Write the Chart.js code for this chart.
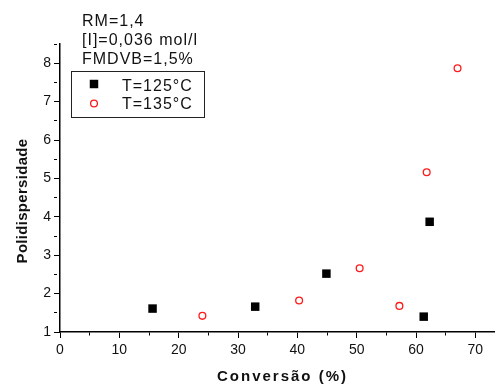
<!DOCTYPE html>
<html>
<head>
<meta charset="utf-8">
<script src="https://cdn.jsdelivr.net/npm/chart.js@4"></script>
<style>
  /* the original plot runs past the right edge of the picture, so the canvas is a bit wider than the window */
  body { margin: 0; background: #fff; overflow: hidden; }
</style>
</head>
<body>
<canvas id="myChart" width="511" height="384"></canvas>
<script>
// values
var seriesNames = ["T=125°C", "T=135°C"];
var conv125 = [15.6, 32.9, 44.9, 61.3, 62.3];
var poli125 = [1.61, 1.66, 2.52, 1.40, 3.87];
var conv135 = [24.0, 40.3, 50.5, 57.2, 61.8, 67.0];
var poli135 = [1.42, 1.82, 2.66, 1.68, 5.16, 7.87];
var notes = ["RM=1,4", "[I]=0,036 mol/l", "FMDVB=1,5%"];
var xTitle = "Conversão (%)";
var yTitle = "Polidispersidade";

var FONT = "'Liberation Sans', Arial, sans-serif";
Chart.defaults.font.family = FONT;
Chart.defaults.color = "#111";

function points(xs, ys) {
  return xs.map(function(x, i) {
    return { x: x, y: ys[i] };
  });
}

// axis titles in the original are letter-spaced and the y one sits a bit low
var titleTweaks = {
  x: { spacing: "2px", dy: 0 },
  y: { spacing: "0.3px", dy: 13 }
};

var titlePlugin = {
  id: "titleTweak",
  beforeDraw: function(chart) {
    Object.keys(titleTweaks).forEach(function(id) {
      var scale = chart.scales[id];
      if (!scale || scale._tweaked) return;
      var orig = scale.drawTitle.bind(scale);
      var tw = titleTweaks[id];
      scale.drawTitle = function() {
        var ctx = this.ctx;
        ctx.save();
        ctx.letterSpacing = tw.spacing;
        ctx.translate(0, tw.dy);
        orig();
        ctx.restore();
      };
      scale._tweaked = true;
    });
  }
};

// text block + boxed legend in the upper left corner
var notesPlugin = {
  id: "notes",
  afterDraw: function(chart) {
    var ctx = chart.ctx;
    ctx.save();
    ctx.letterSpacing = "1px";
    ctx.font = "16px " + FONT;
    ctx.fillStyle = "#111";
    ctx.textBaseline = "alphabetic";
    for (var i = 0; i < notes.length; i++) {
      ctx.fillText(notes[i], 82, 26 + i * 19);
    }
    ctx.strokeStyle = "#222";
    ctx.lineWidth = 1;
    ctx.strokeRect(71.5, 71.5, 133, 46);
    chart.data.datasets.forEach(function(ds, k) {
      var y = 84 + k * 19.5;
      ctx.fillStyle = ds.backgroundColor;
      ctx.strokeStyle = ds.borderColor;
      ctx.lineWidth = ds.borderWidth;
      Chart.helpers.drawPoint(ctx, {
        pointStyle: ds.pointStyle,
        radius: ds.pointRadius,
        borderWidth: ds.borderWidth,
        rotation: 0
      }, 94, y);
      ctx.fillStyle = "#111";
      ctx.fillText(ds.label, 122, 90.7 + k * 18.5);
    });
    ctx.restore();
  }
};

var ctx = document.getElementById("myChart").getContext("2d");
var chart = new Chart(ctx, {
  type: "scatter",
  data: {
    datasets: [
      {
        label: seriesNames[0],
        data: points(conv125, poli125),
        pointStyle: "rect",
        pointRadius: 6,
        backgroundColor: "#000",
        borderColor: "#000",
        borderWidth: 0
      },
      {
        label: seriesNames[1],
        data: points(conv135, poli135),
        pointStyle: "circle",
        pointRadius: 3.4,
        backgroundColor: "rgba(0,0,0,0)",
        borderColor: "#ff1a1a",
        borderWidth: 1.3
      }
    ]
  },
  options: {
    responsive: false,
    animation: false,
    layout: { padding: { top: 44, right: 0, left: 0, bottom: 0 } },
    plugins: {
      legend: { display: false },
      tooltip: { enabled: false }
    },
    scales: {
      x: {
        type: "linear",
        min: 0,
        max: 75,
        afterFit: function(s) { s.height = 52; },
        border: { color: "#000", width: 1.5 },
        grid: {
          drawOnChartArea: false,
          tickLength: 6,
          tickColor: "#000",
          tickWidth: 1,
          tickBorderDash: function(c) {
            return c.tick && c.tick.value % 10 ? [3, 20] : [];
          }
        },
        ticks: {
          stepSize: 5,
          includeBounds: false,
          autoSkip: false,
          maxRotation: 0,
          padding: 4,
          color: "#111",
          font: { size: 14 },
          callback: function(v) { return v % 10 === 0 ? v : ""; }
        },
        title: {
          display: true,
          text: xTitle,
          color: "#111",
          padding: 0,
          font: { size: 15, weight: "bold", lineHeight: 1 }
        }
      },
      y: {
        type: "linear",
        min: 1,
        max: 8.5,
        afterFit: function(s) { s.width = 60; },
        border: { color: "#000", width: 1.5 },
        grid: {
          drawOnChartArea: false,
          tickLength: 6,
          tickColor: "#000",
          tickWidth: 1,
          tickBorderDash: function(c) {
            return c.tick && c.tick.value % 1 ? [3, 20] : [];
          }
        },
        ticks: {
          stepSize: 0.5,
          includeBounds: false,
          autoSkip: false,
          padding: 3,
          color: "#111",
          font: { size: 14 },
          callback: function(v) { return v % 1 === 0 ? v : ""; }
        },
        title: {
          display: true,
          text: yTitle,
          color: "#111",
          padding: { top: 15, bottom: 0 },
          font: { size: 15, weight: "bold", lineHeight: 1 }
        }
      }
    }
  },
  plugins: [titlePlugin, notesPlugin]
});
</script>
</body>
</html>
